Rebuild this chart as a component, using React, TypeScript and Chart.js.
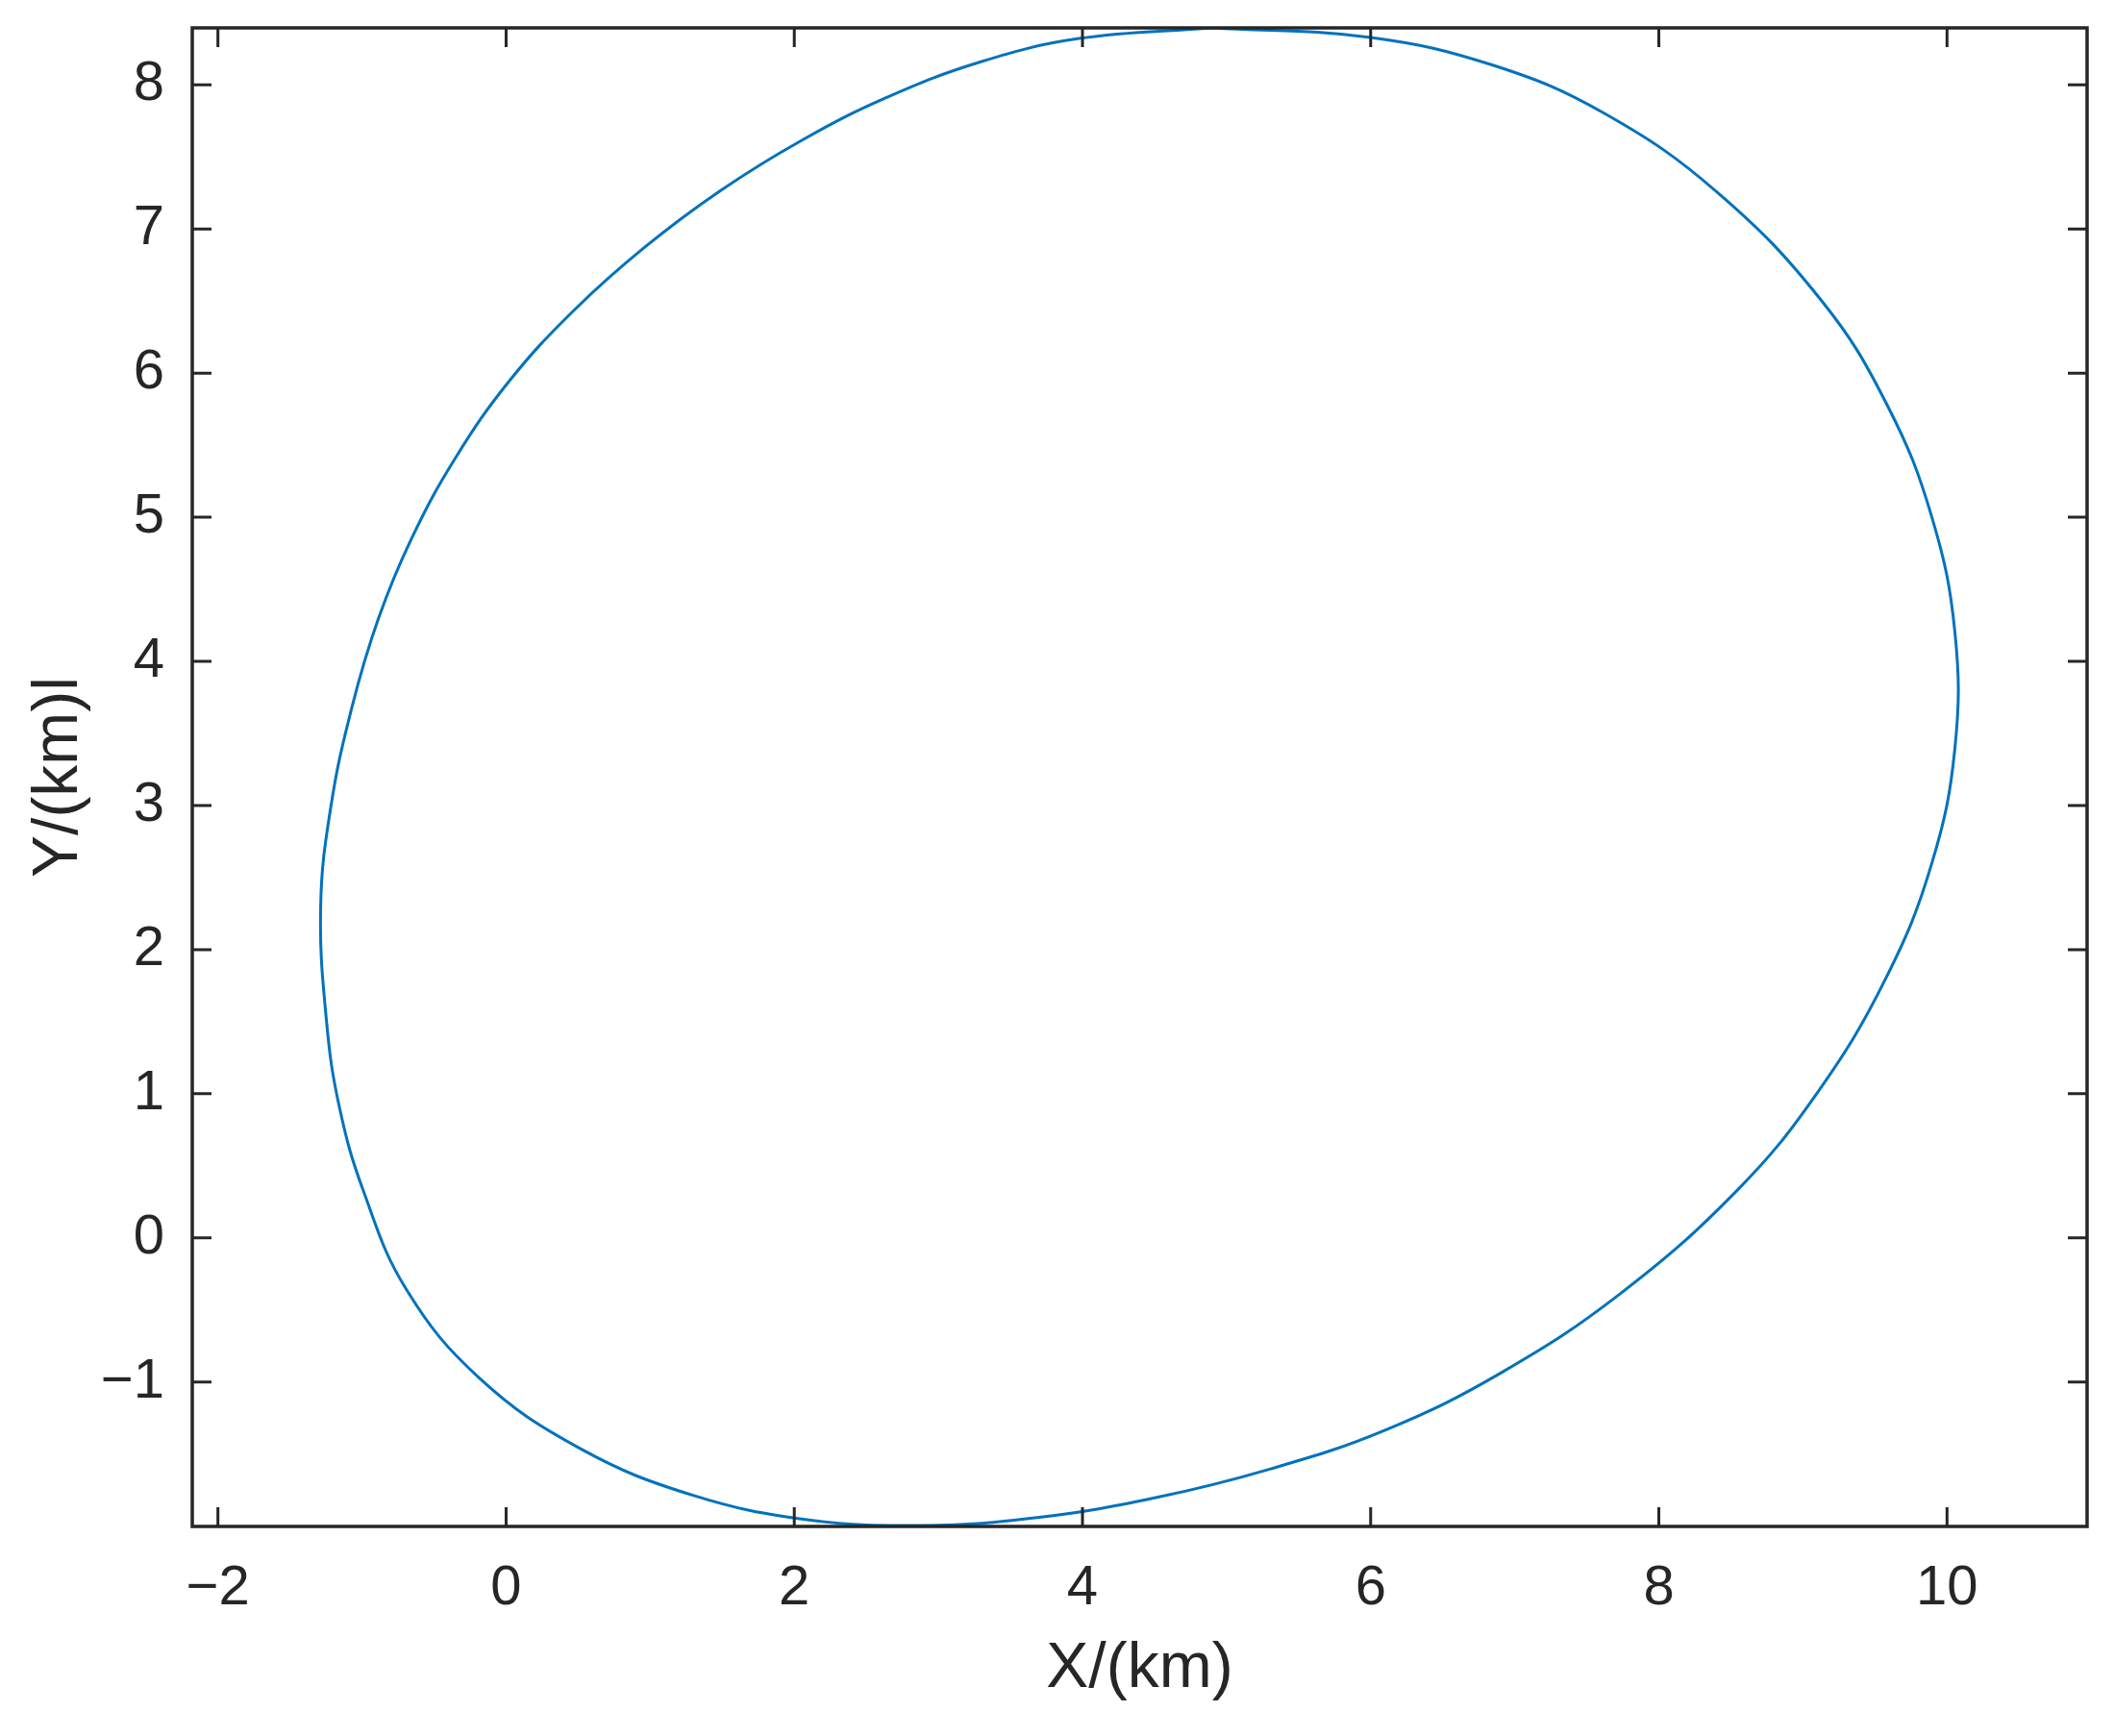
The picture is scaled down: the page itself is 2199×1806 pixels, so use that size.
import React, { useEffect, useRef } from 'react';
import { Chart, registerables } from 'chart.js';

Chart.register(...registerables);

// Trajectory (km), traced clockwise from the top of the loop
const pathX = [
  4.9, 6.0, 6.858, 7.614, 8.4, 9.133, 9.59, 9.895, 10.055, 10.055, 9.895, 9.575, 9.095, 8.54,
  7.73, 6.9, 6.1, 5.3, 4.5, 3.7, 2.9, 2.1, 1.298, 0.513, -0.184, -0.693, -0.992, -1.157,
  -1.246, -1.287, -1.216, -1.071, -0.885, -0.655, -0.354, 0.024, 0.47, 0.962, 1.491, 2.052,
  2.641, 3.295, 3.975, 4.9,
];
const pathY = [
  8.396, 8.3295, 8.134, 7.807, 7.26, 6.498, 5.768, 5.0, 4.2, 3.4, 2.6, 1.8, 1.0, 0.326,
  -0.39, -0.94, -1.335, -1.605, -1.805, -1.94, -1.996, -1.958, -1.7875, -1.462, -0.975,
  -0.357, 0.33, 0.907, 1.499, 2.297, 2.993, 3.678, 4.3, 4.855, 5.408, 5.948, 6.435, 6.874,
  7.269, 7.616, 7.913, 8.161, 8.322, 8.396,
];

const xTicks = [-2, 0, 2, 4, 6, 8, 10];
const yTicks = [-1, 0, 1, 2, 3, 4, 5, 6, 7, 8];
const xLimits = [-2.178, 10.972];
const yLimits = [-2.003, 8.396];

const xTitle = 'X/(km)';
const yTitle = 'Y/(km)l';

const AXIS_COLOR = '#262626';
const LINE_COLOR = '#0072BD';
const FONT = '"Liberation Sans", Arial, Helvetica, sans-serif';

const fmt = (v: number) => (v < 0 ? '\u2212' + Math.abs(v) : String(v));

const framePlugin = {
  id: 'matlabFrame',
  afterDatasetsDraw(chart: any) {
    const { ctx, chartArea, scales } = chart;
    const { left, right, top, bottom } = chartArea;
    const tl = 20;
    ctx.save();
    ctx.strokeStyle = AXIS_COLOR;
    ctx.lineWidth = 3;
    ctx.beginPath();
    for (const v of xTicks) {
      const px = scales.x.getPixelForValue(v);
      ctx.moveTo(px, bottom);
      ctx.lineTo(px, bottom - tl);
      ctx.moveTo(px, top);
      ctx.lineTo(px, top + tl);
    }
    for (const v of yTicks) {
      const py = scales.y.getPixelForValue(v);
      ctx.moveTo(left, py);
      ctx.lineTo(left + tl, py);
      ctx.moveTo(right, py);
      ctx.lineTo(right - tl, py);
    }
    ctx.stroke();
    ctx.lineWidth = 3.5;
    ctx.strokeRect(left, top, right - left, bottom - top);
    ctx.restore();
  },
};

export default function App() {
  const ref = useRef<HTMLCanvasElement | null>(null);

  useEffect(() => {
    if (!ref.current) return;
    const points = pathX.map((x, i) => ({ x, y: pathY[i] }));
    const chart = new Chart(ref.current, {
      type: 'scatter',
      data: {
        datasets: [
          {
            data: points,
            showLine: true,
            borderColor: LINE_COLOR,
            borderWidth: 3,
            pointRadius: 0,
            tension: 0.4,
            fill: false,
          },
        ],
      },
      options: {
        responsive: false,
        animation: false,
        devicePixelRatio: 1,
        layout: { padding: { top: 29, right: 28, left: 0, bottom: 0 } },
        plugins: {
          legend: { display: false },
          tooltip: { enabled: false },
        },
        scales: {
          x: {
            type: 'linear',
            position: 'bottom',
            min: xLimits[0],
            max: xLimits[1],
            afterBuildTicks: (s: any) => {
              s.ticks = xTicks.map((v) => ({ value: v }));
            },
            afterFit: (s: any) => {
              s.height = 218;
              s.paddingLeft = 0;
              s.paddingRight = 0;
              s.paddingTop = 0;
              s.paddingBottom = 0;
            },
            grid: { display: false, drawTicks: false },
            border: { display: false },
            ticks: {
              color: AXIS_COLOR,
              font: { family: FONT, size: 58 },
              padding: 30,
              maxRotation: 0,
              autoSkip: false,
              callback: (v: any) => fmt(Number(v)),
            },
            title: {
              display: true,
              text: xTitle,
              color: AXIS_COLOR,
              font: { family: FONT, size: 66 },
              padding: { top: 0, bottom: 30 },
            },
          },
          y: {
            type: 'linear',
            position: 'left',
            min: yLimits[0],
            max: yLimits[1],
            afterBuildTicks: (s: any) => {
              s.ticks = yTicks.map((v) => ({ value: v }));
            },
            afterFit: (s: any) => {
              s.width = 200;
              s.paddingLeft = 0;
              s.paddingRight = 0;
              s.paddingTop = 0;
              s.paddingBottom = 0;
            },
            grid: { display: false, drawTicks: false },
            border: { display: false },
            ticks: {
              color: AXIS_COLOR,
              font: { family: FONT, size: 58 },
              padding: 29,
              autoSkip: false,
              callback: (v: any) => fmt(Number(v)),
            },
            title: {
              display: true,
              text: yTitle,
              color: AXIS_COLOR,
              font: { family: FONT, size: 66 },
              padding: { top: 22, bottom: 0 },
            },
          },
        },
      } as any,
      plugins: [framePlugin],
    });
    return () => chart.destroy();
  }, []);

  return (
    <div style={{ position: 'absolute', left: 0, top: 0, width: 2199, height: 1806, background: '#fff' }}>
      <canvas ref={ref} width={2199} height={1806} style={{ display: 'block' }} />
    </div>
  );
}
